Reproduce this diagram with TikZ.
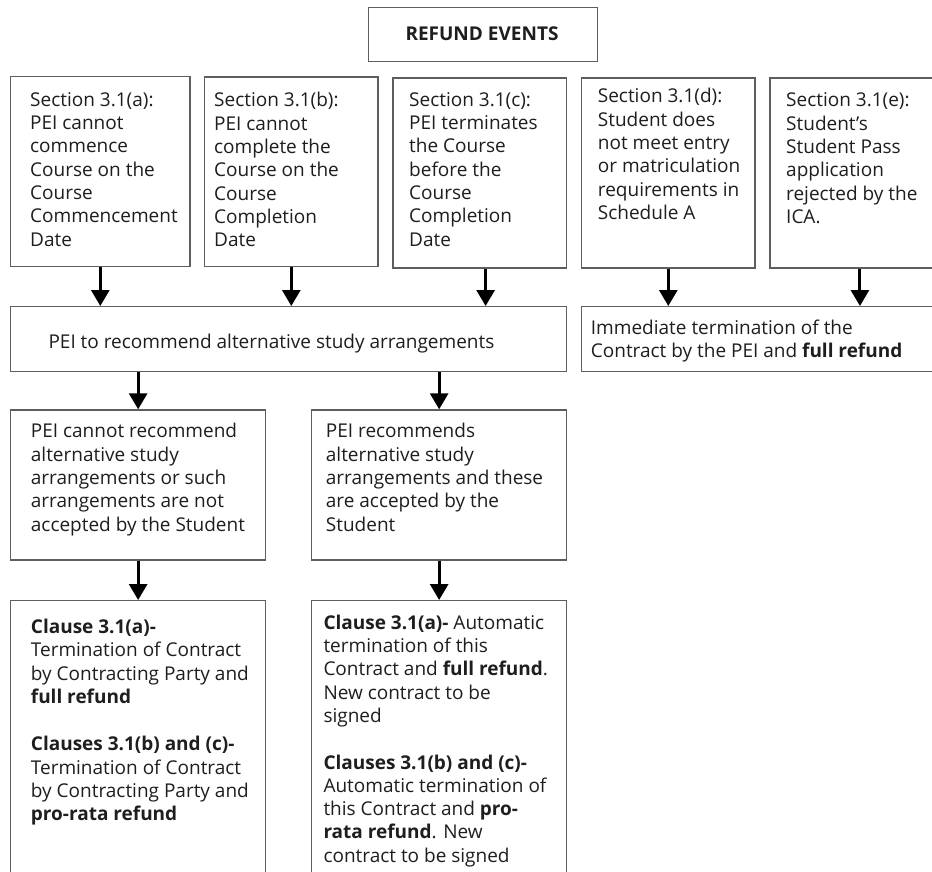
\documentclass[tikz,border=0pt]{standalone}
\usepackage{fontspec}
\setmainfont{Open Sans}
\usetikzlibrary{arrows.meta}
\definecolor{boxgray}{HTML}{5E5E5E}
\definecolor{txtcol}{HTML}{1E1E1E}
\begin{document}
\begin{tikzpicture}[x=1pt,y=-1pt,
  box/.style={draw=boxgray, line width=1.3pt, rectangle, inner sep=0pt, anchor=north west},
  txt/.style={anchor=north west, inner sep=0pt, align=left, font=\fontsize{19}{23.3}\selectfont, text=txtcol},
  arr/.style={line width=3pt, draw=black, -{Triangle[width=18pt,length=16pt]}}]
\useasboundingbox (0,0) rectangle (932,872);
\clip (0,0) rectangle (932,872);
\fill[white] (0,0) rectangle (932,872);

% boxes
\node[box, minimum width=229pt, minimum height=54pt] (title) at (368,7) {};
\node[box, minimum width=179.3pt, minimum height=189.7pt] (a) at (10,76) {};
\node[box, minimum width=173.3pt, minimum height=189.4pt] (b) at (204,76.3) {};
\node[box, minimum width=173.7pt, minimum height=190pt] (c) at (392.3,77.3) {};
\node[box, minimum width=173.3pt, minimum height=190pt] (d) at (581,77.3) {};
\node[box, minimum width=180pt, minimum height=190pt] (e) at (769.3,77.3) {};
\node[box, minimum width=556pt, minimum height=65pt] (pei) at (10,306) {};
\node[box, minimum width=370pt, minimum height=64.7pt] (imm) at (581,306) {};
\node[box, minimum width=255pt, minimum height=150pt] (cannot) at (10,409.3) {};
\node[box, minimum width=255pt, minimum height=150pt] (rec) at (311,409.3) {};
\node[box, minimum width=255pt, minimum height=290pt] (bl) at (10,600) {};
\node[box, minimum width=255pt, minimum height=290pt] (br) at (311,600) {};

% texts
\node[anchor=base, inner sep=0pt, font=\fontsize{19}{23}\selectfont\bfseries, text=txtcol] (ttitle) at (482,40.7) {REFUND EVENTS};
\node[txt] (ta) at (30,89.7) {\strut Section 3.1(a):\\PEI cannot\\commence\\Course on the\\Course\\Commencement\\Date};
\node[txt] (tb) at (214,90.4) {\strut Section 3.1(b):\\PEI cannot\\complete the\\Course on the\\Course\\Completion\\Date};
\node[txt] (tc) at (409,89.7) {\strut Section 3.1(c):\\PEI terminates\\the Course\\before the\\Course\\Completion\\Date};
\node[txt] (td) at (597.7,86.4) {\strut Section 3.1(d):\\Student does\\not meet entry\\or matriculation\\requirements in\\Schedule A};
\node[txt] (te) at (786,90.4) {\strut Section 3.1(e):\\Student’s\\Student Pass\\application\\rejected by the\\ICA.};
\node[txt] (tpei) at (48.3,332) {\strut PEI to recommend alternative study arrangements};
\node[txt] (timm) at (590.7,318) {\strut Immediate termination of the\\Contract by the PEI and \textbf{full refund}};
\node[txt] (tcannot) at (30.7,421.4) {\strut PEI cannot recommend\\alternative study\\arrangements or such\\arrangements are not\\accepted by the Student};
\node[txt] (trec) at (325.7,421.4) {\strut PEI recommends\\alternative study\\arrangements and these\\are accepted by the\\Student};
\node[txt] (tbl) at (30.7,617) {\strut\textbf{Clause 3.1(a)-}\\Termination of Contract\\by Contracting Party and\\\textbf{full refund}\\[24.1pt]\textbf{Clauses 3.1(b) and (c)-}\\Termination of Contract\\by Contracting Party and\\\textbf{pro-rata refund}};
\node[txt] (tbr) at (323.3,612.7) {\strut\textbf{Clause 3.1(a)-} Automatic\\termination of this\\Contract and \textbf{full refund}.\\New contract to be\\signed\\[23.3pt]\textbf{Clauses 3.1(b) and (c)-}\\Automatic termination of\\this Contract and \textbf{pro-}\\\textbf{rata refund}. New\\contract to be signed};

% arrows
\draw[arr] (a.south) -- (a.south |- pei.north);
\draw[arr] (b.south) -- (b.south |- pei.north);
\draw[arr] ([xshift=5.8pt]c.south) -- ([xshift=5.8pt]c.south |- pei.north);
\draw[arr] (d.south) -- (d.south |- imm.north);
\draw[arr] (e.south) -- (e.south |- imm.north);
\draw[arr] (cannot.north |- pei.south) -- (cannot.north);
\draw[arr] (rec.north |- pei.south) -- (rec.north);
\draw[arr] (cannot.south) -- (bl.north);
\draw[arr] (rec.south) -- (br.north);
\end{tikzpicture}
\end{document}
